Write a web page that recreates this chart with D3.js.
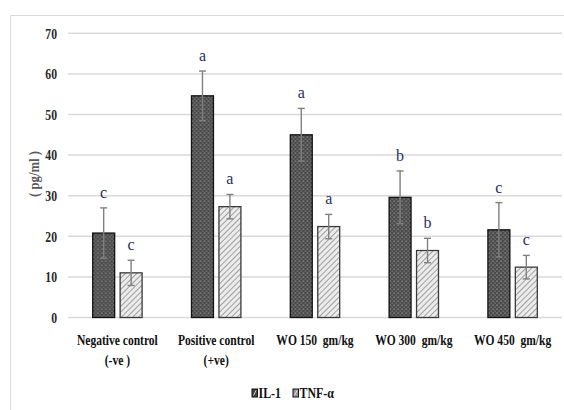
<!DOCTYPE html>
<html>
<head>
<meta charset="utf-8">
<script src="https://cdn.jsdelivr.net/npm/d3@7"></script>
<style>
  body { margin: 0; background: #fff; }
  svg { display: block; }
</style>
</head>
<body>
<div id="chart"></div>
<script>
// data
const categories = ['Negative control|(-ve )', 'Positive control|(+ve)', 'WO 150  gm/kg', 'WO 300  gm/kg', 'WO 450  gm/kg'];
const il1 = [20.8, 54.6, 45.0, 29.6, 21.6];
const il1Err = [6.2, 6.1, 6.5, 6.5, 6.7];
const tnf = [11.0, 27.3, 22.4, 16.5, 12.4];
const tnfErr = [3.1, 3.0, 3.0, 3.0, 2.9];
const il1Sig = ['c', 'a', 'a', 'b', 'c'];
const tnfSig = ['c', 'a', 'a', 'b', 'c'];
const seriesNames = ['IL-1', 'TNF-\u03b1'];
const yTicks = [0, 10, 20, 30, 40, 50, 60, 70];

const width = 564, height = 410;
const margin = {top: 33.3, right: 2, bottom: 92.5, left: 68};
const serif = "'Liberation Serif', 'Times New Roman', serif";

const svg = d3.select('#chart').append('svg')
    .attr('width', width)
    .attr('height', height);

// patterns
const defs = svg.append('defs');
const dots = defs.append('pattern')
    .attr('id', 'dots')
    .attr('patternUnits', 'userSpaceOnUse')
    .attr('width', 4).attr('height', 4);
dots.append('rect').attr('width', 4).attr('height', 4).attr('fill', '#4a4a4a');
dots.append('rect').attr('x', 0.5).attr('y', 0.5).attr('width', 1.2).attr('height', 1.2).attr('fill', '#a8a8a8');
dots.append('rect').attr('x', 2.5).attr('y', 2.5).attr('width', 1.2).attr('height', 1.2).attr('fill', '#8a8a8a');

const hatch = defs.append('pattern')
    .attr('id', 'hatch')
    .attr('patternUnits', 'userSpaceOnUse')
    .attr('width', 4).attr('height', 4)
    .attr('patternTransform', 'rotate(45)');
hatch.append('rect').attr('width', 4).attr('height', 4).attr('fill', '#ececec');
hatch.append('line').attr('x1', 0).attr('y1', 0).attr('x2', 0).attr('y2', 4)
    .attr('stroke', '#8c8c8c').attr('stroke-width', 1.6);

const fills = ['url(#dots)', 'url(#hatch)'];
const borders = ['#111', '#3a3a3a'];

// outer frame
svg.append('path')
    .attr('d', `M10.5,${height} V15.5 H${width}`)
    .attr('fill', 'none')
    .attr('stroke', '#d9d9d9')
    .attr('stroke-width', 1);

// scales
const x0 = d3.scaleBand()
    .domain(categories)
    .range([margin.left, width - margin.right])
    .paddingInner(0.5)
    .paddingOuter(0.25);

const x1 = d3.scaleBand()
    .domain(seriesNames)
    .range([0, x0.bandwidth()])
    .paddingInner(0.2);

const y = d3.scaleLinear()
    .domain([0, 70])
    .range([height - margin.bottom, margin.top]);

// squeeze text horizontally (reference font is narrow)
function squeeze(sel, k) {
    sel.each(function() {
        const t = d3.select(this);
        const xv = +t.attr('x') || 0;
        t.attr('x', xv / k).attr('transform', `scale(${k},1)`);
    });
}

// grid lines
svg.append('g')
    .selectAll('line')
    .data(yTicks)
    .join('line')
    .attr('x1', margin.left)
    .attr('x2', width - margin.right)
    .attr('y1', d => y(d))
    .attr('y2', d => y(d))
    .attr('stroke', '#d9d9d9')
    .attr('stroke-width', 1.5);

// y axis labels
const yAxis = svg.append('g')
    .attr('transform', `translate(${margin.left},0)`)
    .call(d3.axisLeft(y).tickValues(yTicks).tickSize(0).tickPadding(11))
    .call(g => g.select('.domain').remove());
yAxis.selectAll('text')
    .attr('font-family', serif)
    .attr('font-size', '15px')
    .attr('font-weight', 'bold')
    .attr('fill', '#262626');
squeeze(yAxis.selectAll('text'), 0.78);

// y axis title
svg.append('text')
    .attr('transform', `translate(39,174) rotate(-90) scale(0.85,1)`)
    .attr('text-anchor', 'middle')
    .attr('font-family', serif)
    .attr('font-size', '15px')
    .attr('font-weight', 'bold')
    .attr('fill', '#595959')
    .text('( pg/ml )');

// x axis labels
const xLab = svg.append('g');
categories.forEach(c => {
    const lines = c.split('|');
    lines.forEach((ln, i) => {
        xLab.append('text')
            .attr('x', x0(c) + x0.bandwidth() / 2)
            .attr('y', 345 + i * 20)
            .attr('text-anchor', 'middle')
            .attr('font-family', serif)
            .attr('font-size', '15px')
            .attr('font-weight', 'bold')
            .attr('fill', '#111')
            .attr('xml:space', 'preserve')
            .style('white-space', 'pre')
            .text(ln);
    });
});
squeeze(xLab.selectAll('text'), 0.77);

// bars
const rows = categories.map((c, i) => ({
    cat: c,
    vals: [
        {s: 0, v: il1[i], e: il1Err[i], sig: il1Sig[i]},
        {s: 1, v: tnf[i], e: tnfErr[i], sig: tnfSig[i]}
    ]
}));

const groups = svg.append('g')
    .selectAll('g')
    .data(rows)
    .join('g')
    .attr('transform', d => `translate(${x0(d.cat)},0)`);

groups.selectAll('rect')
    .data(d => d.vals)
    .join('rect')
    .attr('x', d => x1(seriesNames[d.s]))
    .attr('y', d => y(d.v))
    .attr('width', x1.bandwidth())
    .attr('height', d => y(0) - y(d.v))
    .attr('fill', d => fills[d.s])
    .attr('stroke', d => borders[d.s])
    .attr('stroke-width', 1.3);

// error bars
const capW = 7;
const eb = groups.selectAll('g.err')
    .data(d => d.vals)
    .join('g')
    .attr('class', 'err')
    .attr('stroke', '#7f7f7f')
    .attr('stroke-width', 1.4);
eb.append('line')
    .attr('x1', d => x1(seriesNames[d.s]) + x1.bandwidth() / 2)
    .attr('x2', d => x1(seriesNames[d.s]) + x1.bandwidth() / 2)
    .attr('y1', d => y(d.v - d.e))
    .attr('y2', d => y(d.v + d.e));
eb.append('line')
    .attr('x1', d => x1(seriesNames[d.s]) + x1.bandwidth() / 2 - capW / 2)
    .attr('x2', d => x1(seriesNames[d.s]) + x1.bandwidth() / 2 + capW / 2)
    .attr('y1', d => y(d.v + d.e))
    .attr('y2', d => y(d.v + d.e));
eb.append('line')
    .attr('x1', d => x1(seriesNames[d.s]) + x1.bandwidth() / 2 - capW / 2)
    .attr('x2', d => x1(seriesNames[d.s]) + x1.bandwidth() / 2 + capW / 2)
    .attr('y1', d => y(d.v - d.e))
    .attr('y2', d => y(d.v - d.e));

// significance letters
groups.selectAll('text.sig')
    .data(d => d.vals)
    .join('text')
    .attr('class', 'sig')
    .attr('x', d => x1(seriesNames[d.s]) + x1.bandwidth() / 2)
    .attr('y', d => y(d.v + d.e) - 10)
    .attr('text-anchor', 'middle')
    .attr('font-family', serif)
    .attr('font-size', '16px')
    .attr('fill', '#1f2f5f')
    .text(d => d.sig);

// legend
const legend = svg.append('g').attr('transform', 'translate(252,389)');
const legX = [0, 41];
seriesNames.forEach((name, i) => {
    const g = legend.append('g').attr('transform', `translate(${legX[i]},0)`);
    g.append('rect')
        .attr('width', 5.5).attr('height', 8)
        .attr('fill', i === 0 ? '#444' : '#999')
        .attr('stroke', '#111')
        .attr('stroke-width', 1);
    g.append('line')
        .attr('x1', 1.5).attr('y1', 6.5).attr('x2', 4).attr('y2', 1.5)
        .attr('stroke', '#eee').attr('stroke-width', 0.8);
    g.append('text')
        .attr('x', 6.5 / 0.85)
        .attr('y', 8.5)
        .attr('transform', 'scale(0.85,1)')
        .attr('font-family', serif)
        .attr('font-size', '14px')
        .attr('font-weight', 'bold')
        .attr('fill', '#111')
        .text(name);
});
</script>
</body>
</html>
